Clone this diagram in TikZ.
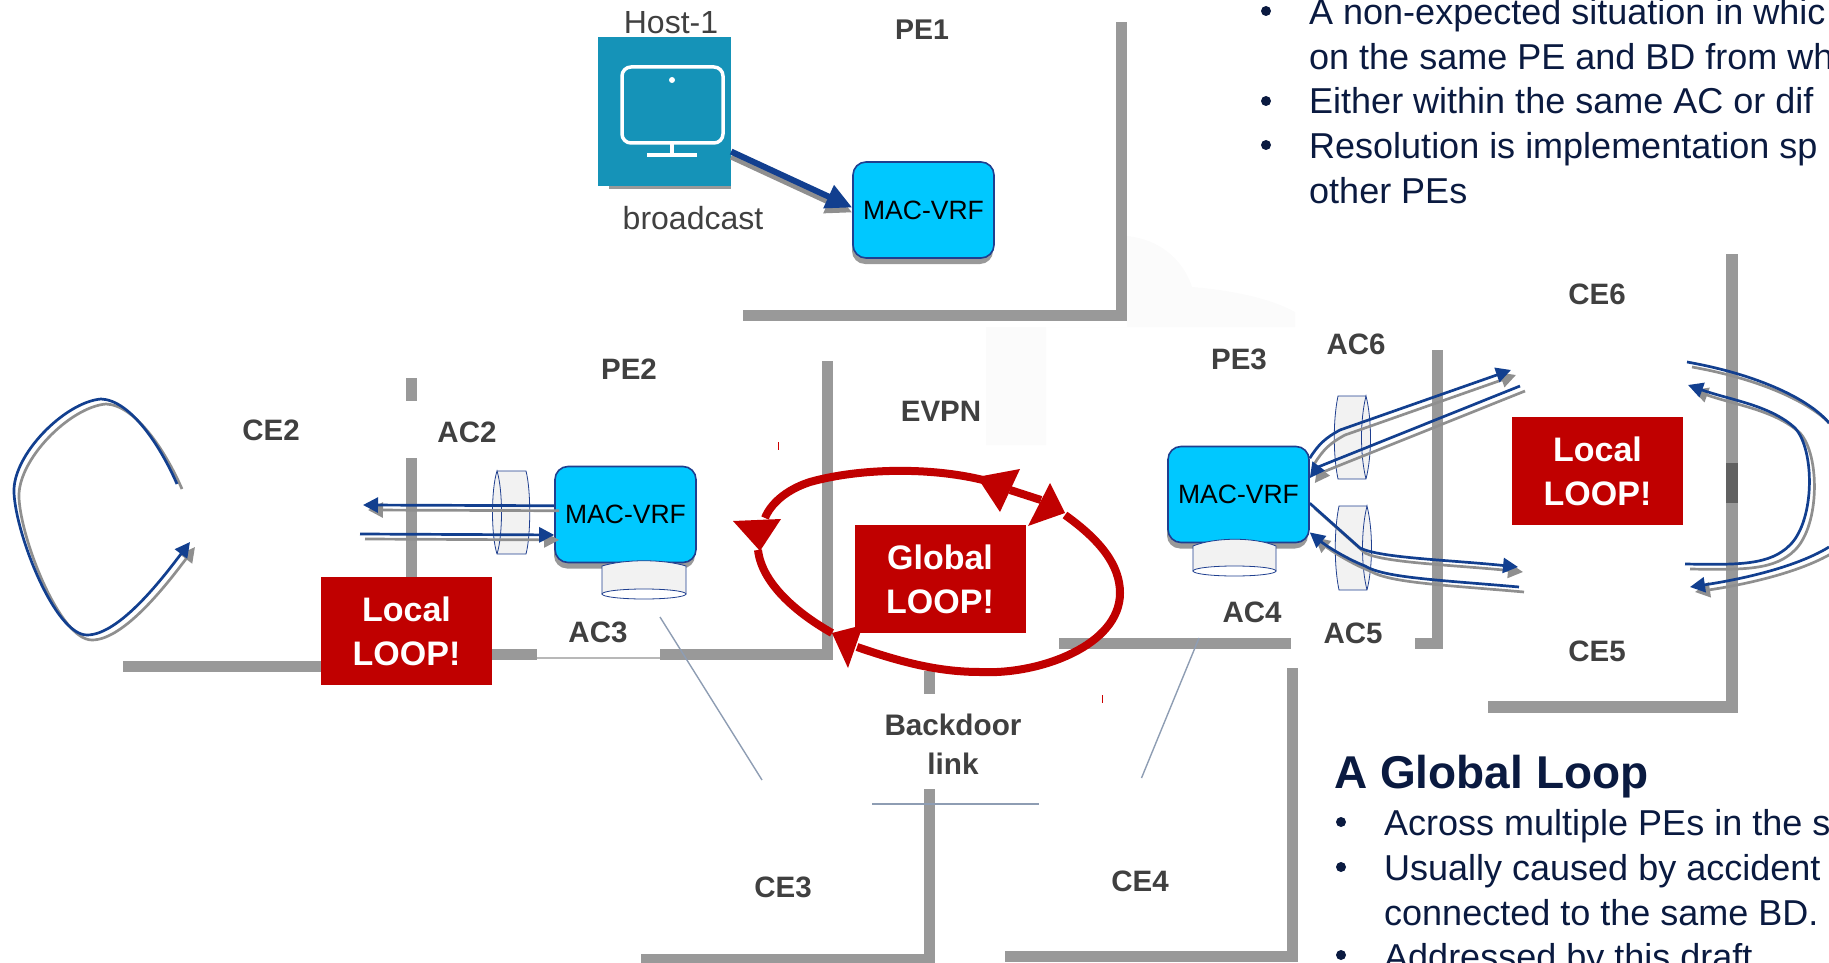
\documentclass[tikz,border=0pt]{standalone}
\usepackage{fontspec}
\setmainfont{Liberation Sans}
\usetikzlibrary{arrows.meta,shadows}
\definecolor{bargrey}{HTML}{999999}
\definecolor{shgrey}{HTML}{8F8F8F}
\definecolor{linkblue}{HTML}{123F8F}
\definecolor{macfill}{HTML}{00C8FF}
\definecolor{macedge}{HTML}{1F3F8F}
\definecolor{loopred}{HTML}{C00000}
\definecolor{labelgrey}{HTML}{404040}
\definecolor{hostfill}{HTML}{1593B8}
\definecolor{thinline}{HTML}{8E9DB3}
\definecolor{bodynavy}{HTML}{0A1A40}
\definecolor{cylfill}{HTML}{F2F2F2}
\newcommand{\lowr}[1]{\raisebox{-2.5pt}{#1}}
\newcommand{\linkpath}[2]{\draw[#1,draw=shgrey,transform canvas={shift={(5pt,-5pt)}}] #2; \draw[#1] #2;}
\tikzset{
  bar/.style={fill=bargrey,draw=none},
  celabel/.style={font=\fontsize{29.5}{34}\selectfont\bfseries,text=labelgrey,inner sep=0pt},
  hostlabel/.style={font=\fontsize{32}{36}\selectfont,text=labelgrey,inner sep=0pt},
  macbox/.style={rectangle,rounded corners=13pt,fill=macfill,draw=macedge,line width=1.6pt,
    minimum width=141pt,minimum height=96pt,inner sep=0pt,font=\fontsize{26.5}{30}\selectfont,text=black,
    copy shadow={shadow xshift=-1pt,shadow yshift=-6pt,fill=bargrey,draw=none}},
  loopbox/.style={rectangle,fill=loopred,minimum width=171pt,minimum height=108pt,inner sep=0pt,
    align=center,font=\fontsize{34}{44}\selectfont\bfseries,text=white},
  bluelink/.style={draw=linkblue,line width=2.7pt},
  bluearrow/.style={bluelink,-{Triangle[length=15pt,width=15pt]}},
  cyl/.style={fill=cylfill,draw=macedge,line width=0.8pt},
  redcurve/.style={draw=loopred,line width=8pt},
  redhead/.style={fill=loopred,draw=none},
  thin link/.style={draw=thinline,line width=1.4pt},
  bodytext/.style={anchor=base west,inner sep=0pt,text=bodynavy,font=\fontsize{36}{40}\selectfont},
  bullet/.style={circle,fill=bodynavy,minimum size=10pt,inner sep=0pt},
}
\begin{document}
\begin{tikzpicture}[x=1pt,y=-1pt]
\useasboundingbox (0,0) rectangle (1829,963);
\clip (0,0) rectangle (1829,963);
% faint cloud
\fill[fill=black!1.5] (1127,236) .. controls (1165,240) and (1185,265) .. (1192,287) .. controls (1230,290) and (1270,298) .. (1295,312) -- (1295,327) -- (1046,327) -- (1046,445) -- (986,445) -- (986,327) -- (1127,327) -- cycle;
% grey walls
\fill[bar] (1116,22) rectangle (1127,321);
\fill[bar] (743,310) rectangle (1127,321);
\fill[bar] (406,378) rectangle (417,401);
\fill[bar] (406,458) rectangle (417,672);
\fill[bar] (123,661) rectangle (417,672);
\fill[bar] (822,361) rectangle (833,660);
\fill[bar] (421,649) rectangle (537,660);
\fill[bar] (660,649) rectangle (833,660);
\draw[draw=bargrey!70,line width=2pt] (537,658) -- (660,658);
\fill[bar] (924,671) rectangle (935,694);
\fill[bar] (924,789) rectangle (935,963);
\fill[bar] (641,954) rectangle (935,963);
\fill[bar] (1059,638) rectangle (1291,649);
\fill[bar] (1415,638) rectangle (1443,649);
\fill[bar] (1432,350) rectangle (1443,649);
\fill[bar] (1287,668) rectangle (1298,962);
\fill[bar] (1005,951) rectangle (1298,962);
\fill[bar] (1726,254) rectangle (1738,713);
\fill[bar] (1488,701) rectangle (1738,713);
\fill[fill=black!62] (1726,463) rectangle (1738,503);
% thin lines
\coordinate (tla) at (660,617); \coordinate (tlb) at (762,780);
\coordinate (tra) at (1199,638); \coordinate (trb) at (1141.5,778);
\coordinate (bla) at (872,804); \coordinate (blb) at (1039,804);
\draw[thin link] (tla) -- (tlb);
\draw[thin link] (tra) -- (trb);
\draw[thin link,line width=2pt] (bla) -- (blb);
% specks
\draw[draw=red!80!black,line width=1pt] (778,442) -- (778,450);
\draw[draw=red!80!black,line width=1pt] (1102,695) -- (1102,703);
% global loop
\draw[redcurve] (983,480) .. controls (930,467) and (860,468) .. (810,482) .. controls (785,490) and (770,505) .. (765,518);
\draw[redcurve] (758,550) .. controls (762,585) and (800,615) .. (832,633);
\draw[redcurve] (1065,515) .. controls (1100,540) and (1120,565) .. (1120,593) .. controls (1120,645) and (1040,675) .. (980,672) .. controls (935,672) and (895,660) .. (857,647);
\draw[redcurve] (1010,490) -- (1041,500);
\fill[redhead] (733,521) -- (781,519) -- (760,551) -- cycle;
\fill[redhead] (1020,469) -- (977,477) -- (1000,512) -- cycle;
\fill[redhead] (1050,483) -- (1065,513) -- (1028,526) -- cycle;
\fill[redhead] (832,633) -- (863,625) -- (848,668) -- cycle;
% host
\fill[bar] (609,180) rectangle (731,188.5);
\node[rectangle,fill=hostfill,minimum width=133pt,minimum height=149pt,inner sep=0pt] (host) at (664.5,111.5) {};
\draw[white,line width=3.5pt,rounded corners=9pt] (622,67) rectangle (723,143);
\fill[white] (672,80) circle (3pt);
\draw[white,line width=3.5pt] (672,143) -- (672,155) (647,155) -- (697,155);
% MAC boxes
\node[macbox] (maca) at (923.5,210) {\raisebox{-2pt}{MAC-VRF}};
\node[macbox] (macb) at (625.5,514.5) {\raisebox{-1pt}{MAC-VRF}};
\node[macbox] (macc) at (1238.5,494.5) {\raisebox{-1pt}{MAC-VRF}};
% cylinders
\draw[cyl] (497,471) -- (526,471) .. controls (531,490) and (531,535) .. (526,554) -- (497,554) .. controls (491,535) and (491,490) .. (497,471) .. controls (503,490) and (503,535) .. (497,554);
\draw[cyl] (602,566) .. controls (625,559) and (663,559) .. (686,566) -- (686,594) -- (602,594) -- cycle;
\draw[cyl,fill=white] (644,594) ellipse (42pt and 5pt);
\draw[cyl] (1193,546) .. controls (1215,537) and (1255,537) .. (1276,546) -- (1276,571) -- (1193,571) -- cycle;
\draw[cyl,fill=white] (1234.5,571) ellipse (41.5pt and 5pt);
\draw[cyl] (1366,396) -- (1338,396) .. controls (1333,420) and (1333,455) .. (1338,479) -- (1366,479) .. controls (1372,455) and (1372,420) .. (1366,396) .. controls (1360,420) and (1360,455) .. (1366,479);
\draw[cyl] (1367,506) -- (1339,506) .. controls (1334,530) and (1334,566) .. (1339,590) -- (1367,590) .. controls (1373,566) and (1373,530) .. (1367,506) .. controls (1361,530) and (1361,566) .. (1367,590);
% connectors
\draw[draw=shgrey,line width=6pt,-{Triangle[length=26pt,width=24pt]},transform canvas={shift={(0pt,-5pt)}}] (host.-31) -- (maca.178);
\draw[draw=linkblue,line width=6pt,-{Triangle[length=26pt,width=24pt]}] (host.-31) -- (maca.178);
\coordinate (cea) at (177,484); \coordinate (ceb) at (190,542);
\linkpath{bluearrow}{(cea) .. controls (160,445) and (130,400) .. (101,399) .. controls (65,402) and (12,455) .. (14,493) .. controls (16,535) and (55,635) .. (87,635) .. controls (120,635) and (165,575) .. (ceb)}
\coordinate (outa) at (363,505); \coordinate (outb) at (360,534);
\linkpath{bluearrow}{(macb.173) -- (outa)}
\linkpath{bluearrow}{(outb) -- (macb.196)}
\coordinate (acsa) at (1511,370); \coordinate (acsb) at (1520,386);
\coordinate (acfa) at (1518,567); \coordinate (acfb) at (1519,587);
\linkpath{bluearrow}{(macc.27) .. controls (1318,445) and (1325,438) .. (1340,430) -- (acsa)}
\linkpath{bluearrow}{(acsb) -- (1318,467) -- (macc.13)}
\linkpath{bluearrow}{(macc.-7) -- (1360,548) .. controls (1380,558) and (1450,560) .. (acfa)}
\linkpath{bluearrow}{(acfb) .. controls (1440,580) and (1385,578) .. (1365,566) .. controls (1345,558) and (1325,545) .. (macc.-28)}
\coordinate (rta) at (1687,362); \coordinate (rtb) at (1688,385);
\coordinate (rba) at (1685,564); \coordinate (rbb) at (1690,587);
\linkpath{bluelink}{(rta) .. controls (1760,375) and (1810,400) .. (1829,423)}
\linkpath{bluearrow}{(1829,547) .. controls (1800,565) and (1750,578) .. (rbb)}
\linkpath{bluearrow}{(rba) .. controls (1740,565) and (1770,565) .. (1790,545) .. controls (1815,520) and (1815,450) .. (1795,428) .. controls (1770,405) and (1730,400) .. (rtb)}
% loop boxes
\node[loopbox] (locala) at (406.5,631) {\lowr{Local}\\\lowr{LOOP!}};
\node[loopbox] (localb) at (1597.5,471) {\lowr{Local}\\\lowr{LOOP!}};
\node[loopbox] (global) at (940,579) {\lowr{Global}\\\lowr{LOOP!}};
% labels
\node[hostlabel] (hostlbl) at (671,23) {Host-1};
\node[hostlabel] (bcast) at (693,218) {broadcast};
\node[celabel,font=\fontsize{28.5}{34}\selectfont\bfseries] (pea) at (922,30) {PE1};
\node[celabel] (peb) at (629,369) {PE2};
\node[celabel] (pec) at (1239,359) {PE3};
\node[celabel] (cet) at (271,430) {CE2};
\node[celabel] (acb) at (467,432) {AC2};
\node[celabel] (acc) at (598,632) {AC3};
\node[celabel] (evpn) at (941,411) {EVPN};
\node[celabel] (acf) at (1356,344) {AC6};
\node[celabel] (acd) at (1252,612) {AC4};
\node[celabel] (ace) at (1353,633) {AC5};
\node[celabel] (cef) at (1597,294) {CE6};
\node[celabel] (cee) at (1597,651) {CE5};
\node[celabel] (ceh) at (783,887) {CE3};
\node[celabel] (cei) at (1140,881) {CE4};
\node[celabel,align=center,font=\fontsize{29.7}{39}\selectfont\bfseries] (backdoor) at (953,744) {Backdoor\\link};
% right text
\node[bullet] (ba) at (1266,11) {};
\node[bullet] (bb) at (1266,101) {};
\node[bullet] (bc) at (1266,145) {};
\node[bodytext] (ta) at (1309,25) {A non-expected situation in whic};
\node[bodytext] (tb) at (1309,70) {on the same PE and BD from wh};
\node[bodytext] (tc) at (1309,114) {Either within the same AC or dif};
\node[bodytext] (td) at (1309,159) {Resolution is implementation sp};
\node[bodytext] (te) at (1309,203) {other PEs};
\node[bodytext,font=\fontsize{46}{54}\selectfont\bfseries] (gh) at (1334,788) {A Global Loop};
\node[bullet] (bd) at (1341,822) {};
\node[bullet] (be) at (1341,867) {};
\node[bullet] (bf) at (1341,955) {};
\node[bodytext] (ga) at (1384,835) {Across multiple PEs in the s};
\node[bodytext] (gb) at (1384,880) {Usually caused by accident};
\node[bodytext] (gc) at (1384,925) {connected to the same BD.};
\node[bodytext] (gd) at (1384,969) {Addressed by this draft};
\end{tikzpicture}
\end{document}
